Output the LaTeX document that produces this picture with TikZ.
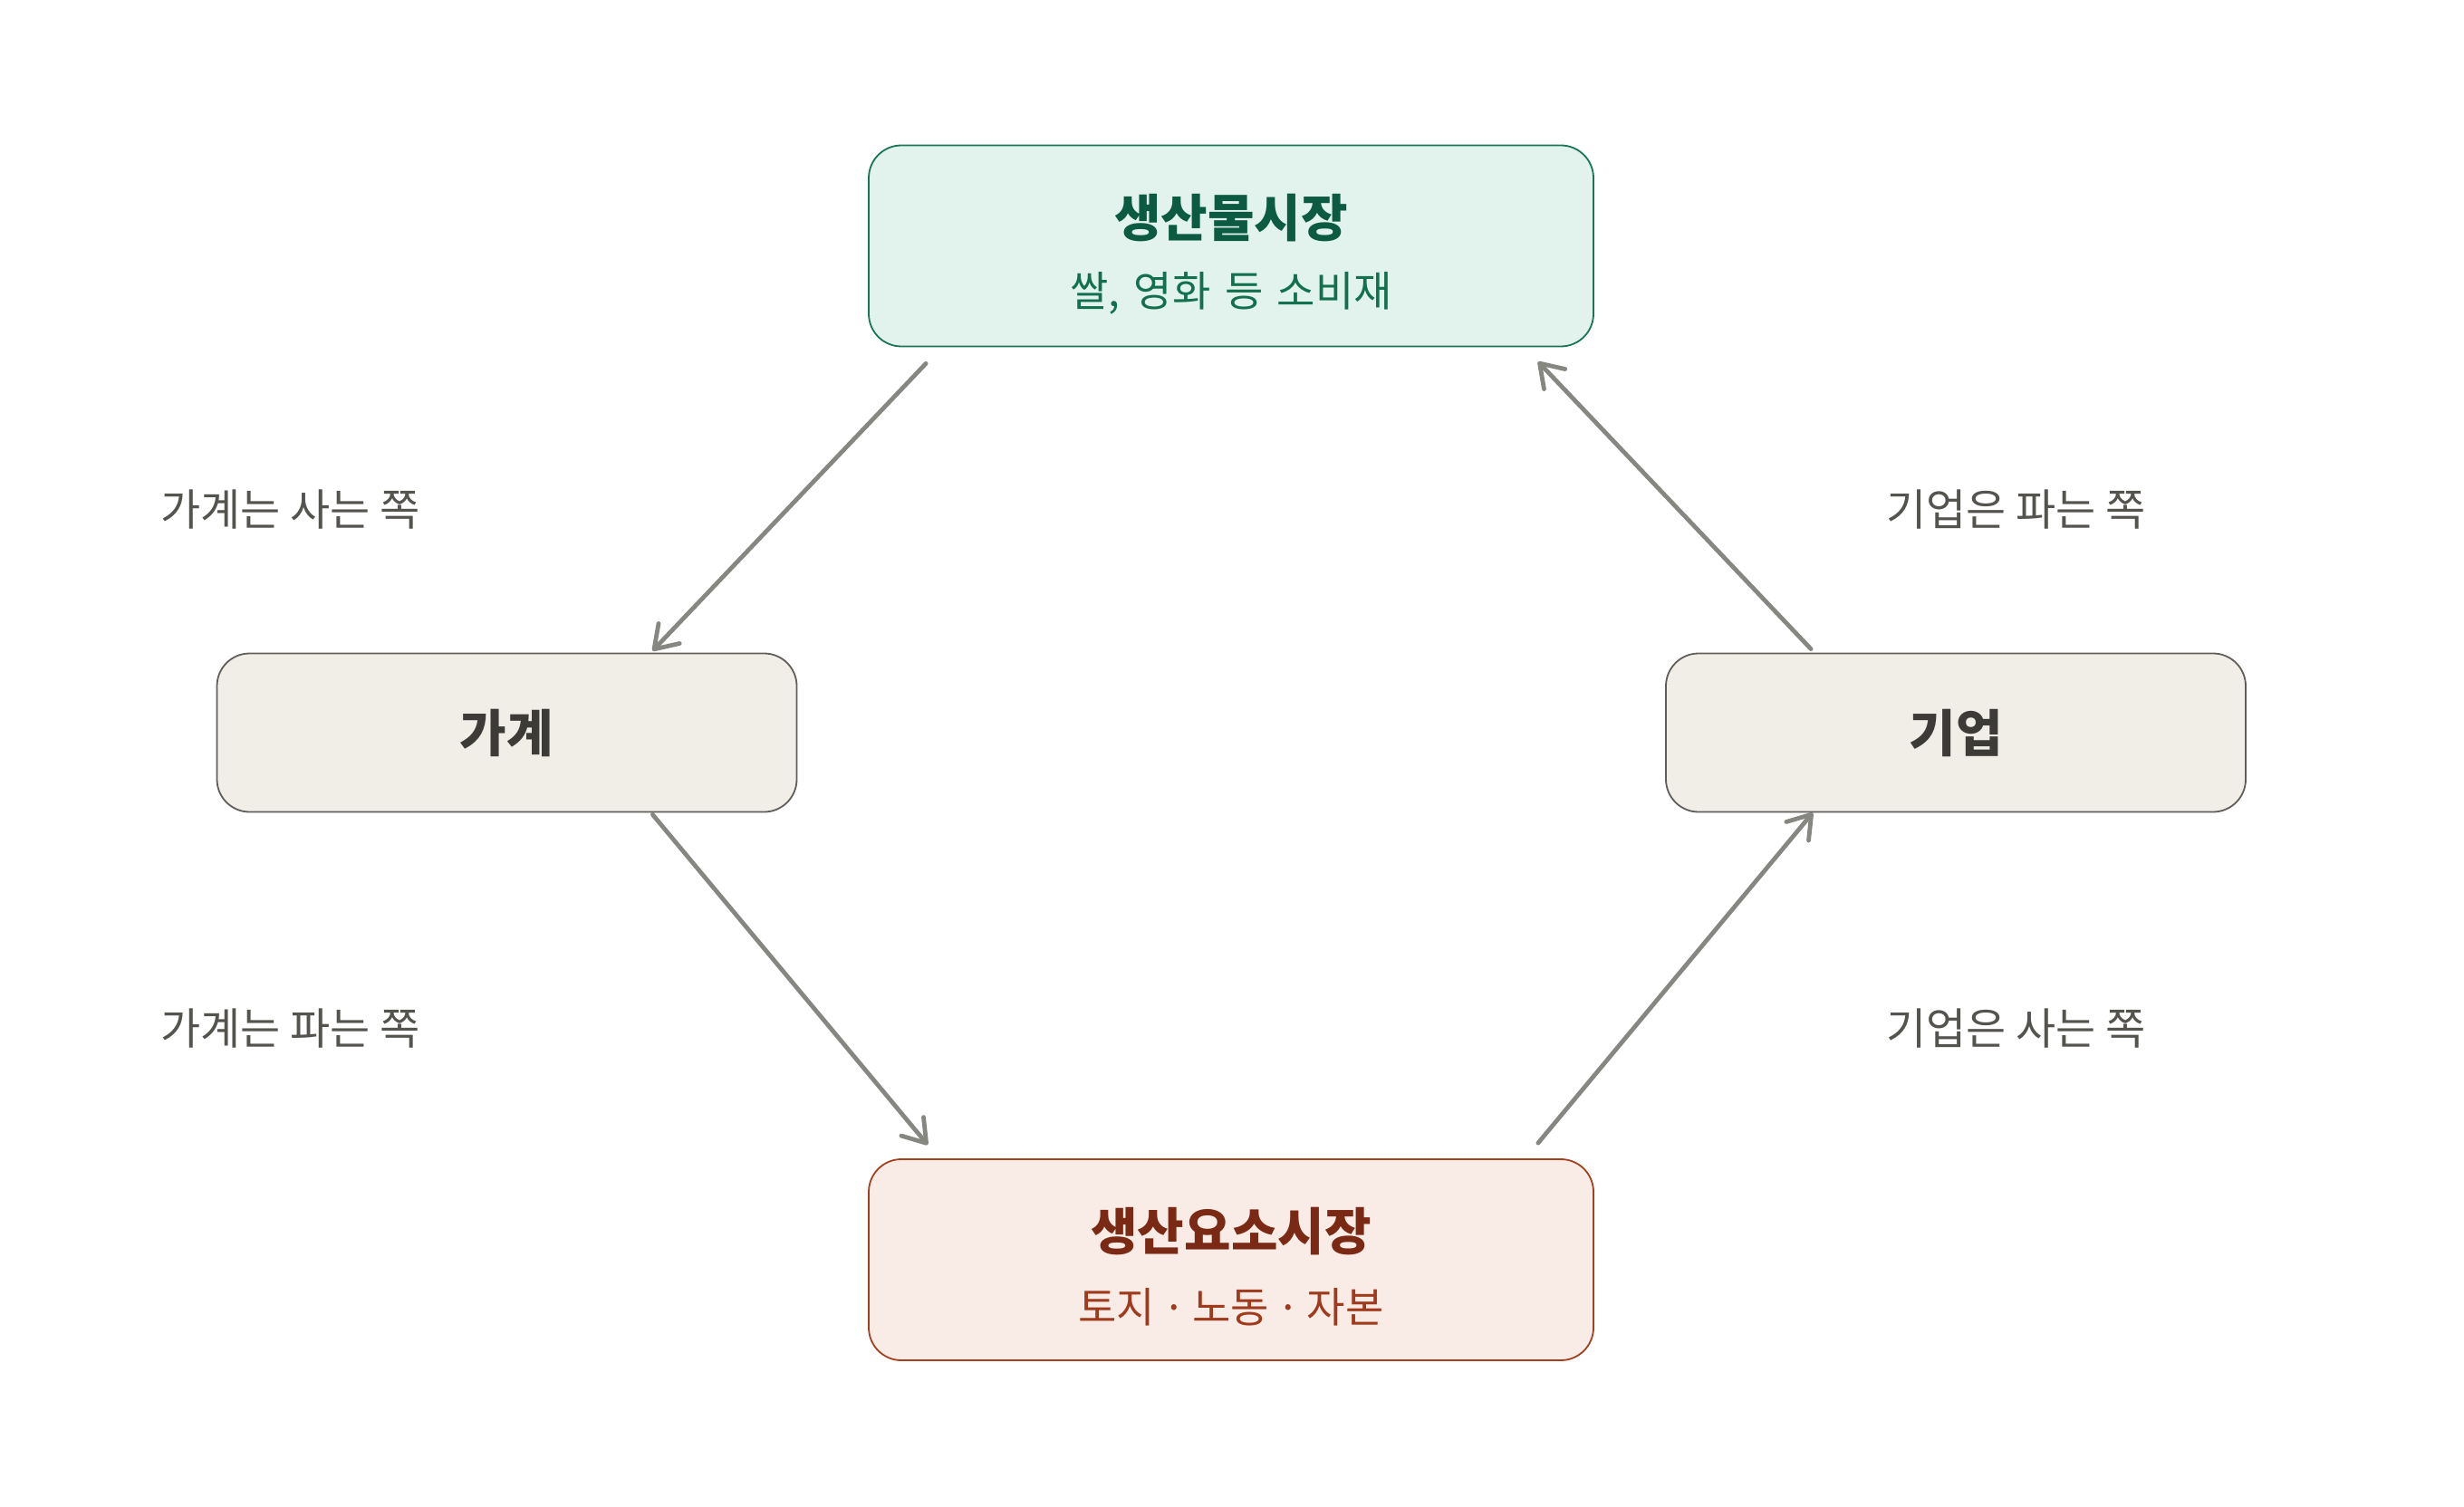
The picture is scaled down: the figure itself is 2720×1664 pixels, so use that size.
\documentclass[tikz,border=0pt]{standalone}
\usepackage{fontspec}
\setmainfont{Noto Sans CJK KR}
\usetikzlibrary{arrows.meta,calc}
\definecolor{gfill}{HTML}{E1F3EC}
\definecolor{gline}{HTML}{1A7556}
\definecolor{gtitle}{HTML}{0B5A41}
\definecolor{gsub}{HTML}{12704F}
\definecolor{rfill}{HTML}{F9ECE6}
\definecolor{rline}{HTML}{A3401F}
\definecolor{rtitle}{HTML}{7A2A14}
\definecolor{rsub}{HTML}{A03A1C}
\definecolor{nfill}{HTML}{F1EEE8}
\definecolor{nline}{HTML}{5F5E5A}
\definecolor{ntext}{HTML}{3C3B38}
\definecolor{arr}{HTML}{878782}
\definecolor{lbl}{HTML}{55534E}
\newcommand{\wsp}{\hspace{0.34em}}
\newcommand{\mdt}{\hspace{0.17em}·\hspace{0.17em}}
\tikzset{
  x=0.5pt,y=-0.5pt,
  boxbase/.style={rounded corners=18pt,line width=0.9pt,inner sep=0pt},
  mktbox/.style={boxbase,minimum width=400pt,minimum height=111pt},
  agent/.style={boxbase,fill=nfill,draw=nline,minimum width=320pt,minimum height=87.5pt,
     font=\fontsize{28}{32}\selectfont\bfseries,text=ntext},
  ttl/.style={font=\fontsize{28}{32}\selectfont\bfseries,inner sep=0pt},
  subt/.style={font=\fontsize{23}{27}\selectfont,inner sep=0pt},
  side/.style={font=\fontsize{24}{28}\selectfont,text=lbl,anchor=west,inner sep=0pt},
  flow/.style={draw=arr,line width=2.4pt,line cap=round,
     -{Straight Barb[length=12pt,width=16pt,line width=2.4pt,round]}}
}
\begin{document}
\begin{tikzpicture}
\useasboundingbox (0,0) rectangle (2720,1664);
% boxes
\node[mktbox,fill=gfill,draw=gline] (prod) at (1359,271.5) {};
\node[mktbox,fill=rfill,draw=rline] (fact) at (1359,1391) {};
\node[agent] (hh) at (559.5,809) {가계};
\node[agent] (firm) at (2159,809) {기업};
% box texts
\node[ttl,text=gtitle] (prodt) at (1359,241) {생산물시장};
\node[subt,text=gsub] (prods) at (1359,324) {쌀,\wsp 영화\wsp 등\wsp 소비재};
\node[ttl,text=rtitle] (factt) at (1359,1360) {생산요소시장};
\node[subt,text=rsub] (facts) at (1359,1443) {토지\mdt 노동\mdt 자본};
% side labels
\node[side] (l1) at (177,563) {가계는 사는 쪽};
\node[side] (l2) at (177,1136) {가계는 파는 쪽};
\node[side] (l3) at (2082,563) {기업은 파는 쪽};
\node[side] (l4) at (2082,1136) {기업은 사는 쪽};
% connector ends
\coordinate (a1s) at ($(prod.south west)+(64,18)$);
\coordinate (a1e) at ($(hh.north east)+(-160,-2)$);
\coordinate (a2s) at ($(hh.south east)+(-160,2)$);
\coordinate (a2e) at ($(fact.north west)+(66,-15)$);
\coordinate (a3s) at ($(fact.north east)+(-62,-17)$);
\coordinate (a3e) at ($(firm.south west)+(163,0)$);
\coordinate (a4s) at ($(firm.north west)+(161,-4)$);
\coordinate (a4e) at ($(prod.south east)+(-62,16)$);
\draw[flow] (a1s) -- (a1e);
\draw[flow] (a2s) -- (a2e);
\draw[flow] (a3s) -- (a3e);
\draw[flow] (a4s) -- (a4e);
\end{tikzpicture}
\end{document}
